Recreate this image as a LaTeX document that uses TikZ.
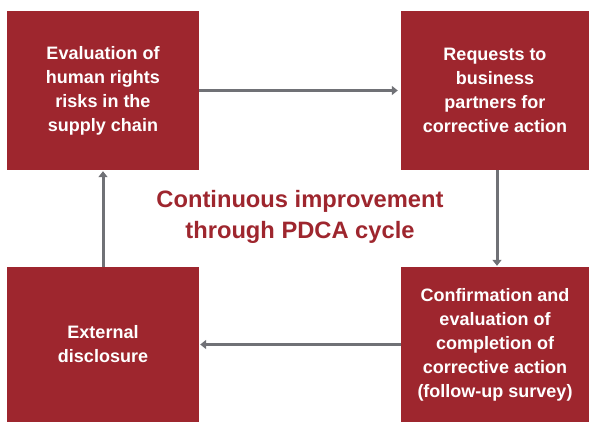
\documentclass[tikz,border=0pt]{standalone}
\usepackage{fontspec}
\setmainfont{Liberation Sans}
\usetikzlibrary{arrows.meta,positioning}
\definecolor{pdcared}{RGB}{158,38,46}
\definecolor{pdcagray}{RGB}{112,113,118}

\begin{document}
\begin{tikzpicture}[x=1pt,y=-1pt,
    stepbox/.style={fill=pdcared,text=white,align=center,inner sep=0pt,
      font=\bfseries\fontsize{18}{24}\selectfont},
    flow/.style={draw=pdcagray,line width=3pt,-{Triangle[width=9pt,length=6pt]}}]
   \useasboundingbox (0,0) rectangle (589,423);
   % the four steps
   \node[stepbox,minimum width=192pt,minimum height=159pt](eval)at(103,90.5)
      {Evaluation of\\human rights\\risks in the\\supply chain};
   \node[stepbox,minimum width=188pt,minimum height=159pt](req)at(495,90.5)
      {Requests to\\business\\partners for\\corrective action};
   \node[stepbox,minimum width=188pt,minimum height=155pt](conf)at(495,344.5)
      {Confirmation and\\evaluation of\\completion of\\corrective action\\(follow-up survey)};
   \node[stepbox,minimum width=192pt,minimum height=155pt](disc)at(103,344.5)
      {External\\disclosure};
   % centre text
   \node[text=pdcared,align=center,font=\bfseries\fontsize{23.7}{31}\selectfont](pdca)at(300,217)
      {Continuous improvement\\through PDCA cycle};
   % cycle
   \draw[flow,shorten >=3pt] (eval.east) -- (req.west);
   \draw[flow,shorten >=1pt] ([xshift=2pt]req.south) -- ([xshift=2pt]conf.north);
   \draw[flow,shorten >=1pt] (conf.west) -- (disc.east);
   \draw[flow,shorten >=1pt] (disc.north) -- (eval.south);
\end{tikzpicture}
\end{document}
